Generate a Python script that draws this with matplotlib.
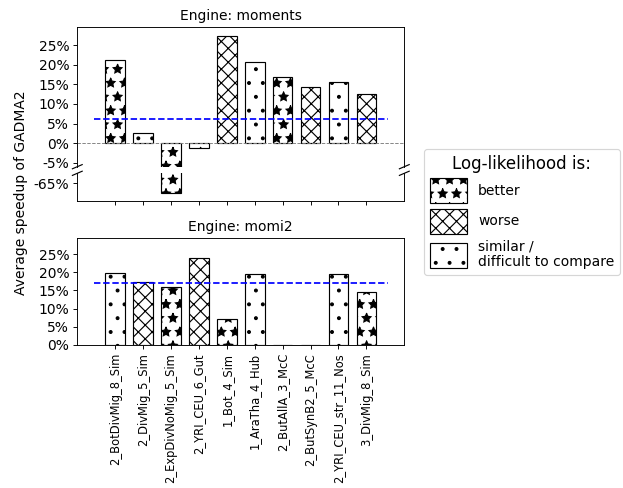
import matplotlib
matplotlib.use("Agg")
import matplotlib.pyplot as plt
import numpy as np
from matplotlib.patches import Patch

models = ['2_BotDivMig_8_Sim', '2_DivMig_5_Sim', '2_ExpDivNoMig_5_Sim', '2_YRI_CEU_6_Gut',
          '1_Bot_4_Sim', '1_AraTha_4_Hub', '2_ButAllA_3_McC', '2_ButSynB2_5_McC',
          '2_YRI_CEU_str_11_Nos', '3_DivMig_8_Sim']

# speedup in %, and log-likelihood outcome per model
moments_speedup = [21.2, 2.5, -67.5, -1.3, 27.3, 20.7, 16.9, 14.4, 15.7, 12.5]
moments_ll = ['better', 'similar', 'better', 'better', 'worse', 'similar', 'better', 'worse', 'similar', 'worse']

momi2_speedup = [19.7, 17.4, 16.0, 23.8, 7.1, 19.4, 0.0, 0.0, 19.4, 14.5]
momi2_ll = ['similar', 'worse', 'better', 'worse', 'better', 'similar', 'similar', 'similar', 'similar', 'better']

hatches = {'better': '*', 'worse': 'xx', 'similar': '.'}
legend_labels = {'better': 'better', 'worse': 'worse', 'similar': 'similar /\ndifficult to compare'}

W, H = 623, 488
DPI = 83
plt.rcParams['font.size'] = 12
fig = plt.figure(figsize=(W / DPI, H / DPI), dpi=DPI)


def fig_ax(x0, y0, x1, y1):
    # pixel box -> axes
    return fig.add_axes([x0 / W, 1 - y1 / H, (x1 - x0) / W, (y1 - y0) / H])


ax_top = fig_ax(77.3, 27, 404.3, 166.7)
ax_neg = fig_ax(77.3, 173.3, 404.3, 201)
ax_mo2 = fig_ax(77.3, 237.7, 404.3, 345)

x = np.arange(len(models))
width = 0.7
xlim = (-1.36, 10.36)


def draw_bars(ax, vals, ll):
    for xi, v, l in zip(x, vals, ll):
        ax.bar(xi, v, width, color='white', edgecolor='black', hatch=hatches[l], linewidth=1)
    ax.set_xlim(*xlim)
    ax.set_xticks(x)


draw_bars(ax_top, moments_speedup, moments_ll)
draw_bars(ax_neg, moments_speedup, moments_ll)
draw_bars(ax_mo2, momi2_speedup, momi2_ll)

mean_moments = np.mean(moments_speedup)
mean_momi2 = np.mean([v for v in momi2_speedup if v != 0])

ax_top.axhline(0, color='gray', ls='--', lw=0.8)
ax_top.axhline(mean_moments, xmin=0.05, xmax=0.95, color='blue', ls='--', lw=1.5)
ax_mo2.axhline(mean_momi2, xmin=0.05, xmax=0.95, color='blue', ls='--', lw=1.5)

ax_top.set_ylim(-5.95, 29.58)
ax_neg.set_ylim(-69.5, -62.46)
ax_mo2.set_ylim(0, 29.48)

top_ticks = [-5, 0, 5, 10, 15, 20, 25]
ax_top.set_yticks(top_ticks)
ax_top.set_yticklabels([f'{t}%' for t in top_ticks])
ax_neg.set_yticks([-65])
ax_neg.set_yticklabels(['-65%'])
mo2_ticks = [0, 5, 10, 15, 20, 25]
ax_mo2.set_yticks(mo2_ticks)
ax_mo2.set_yticklabels([f'{t}%' for t in mo2_ticks])

ax_top.spines['bottom'].set_visible(False)
ax_top.tick_params(bottom=False, labelbottom=False)
ax_neg.spines['top'].set_visible(False)
ax_neg.tick_params(labelbottom=False)
ax_mo2.set_xticklabels(models, rotation=90, fontsize=10)

ax_top.set_title('Engine: moments', fontsize=12)
ax_mo2.set_title('Engine: momi2', fontsize=12)

# break marks
dx, dy = 0.015, 0.015
kw = dict(color='k', clip_on=False, lw=1)
ax_top.plot((-dx, dx), (-dy, dy), transform=ax_top.transAxes, **kw)
ax_top.plot((1 - dx, 1 + dx), (-dy, dy), transform=ax_top.transAxes, **kw)
r = 139.7 / 27.7
ax_neg.plot((-dx, dx), (1 - dy * r, 1 + dy * r), transform=ax_neg.transAxes, **kw)
ax_neg.plot((1 - dx, 1 + dx), (1 - dy * r, 1 + dy * r), transform=ax_neg.transAxes, **kw)

fig.text(0.033, 0.605, 'Average speedup of GADMA2', rotation=90, ha='center', va='center', fontsize=12)

handles = [Patch(facecolor='white', edgecolor='black', hatch=hatches[k], label=legend_labels[k])
           for k in ['better', 'worse', 'similar']]
fig.legend(handles=handles, title='Log-likelihood is:', title_fontsize=14.4, fontsize=12,
           loc='center left', bbox_to_anchor=(424 / W, 1 - 212 / H), borderaxespad=0,
           handlelength=2.7, handleheight=2.4, labelspacing=0.4)

fig.savefig('out.png', dpi=DPI)
